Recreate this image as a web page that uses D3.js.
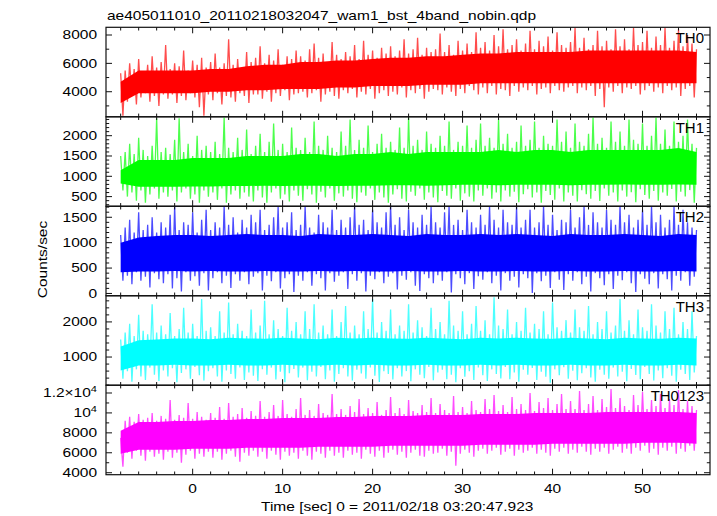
<!DOCTYPE html>
<html><head><meta charset="utf-8">
<script src="https://cdn.jsdelivr.net/npm/d3@7/dist/d3.min.js"></script>
<style>body{margin:0;background:#fff;} svg{display:block;} text{font-family:"Liberation Sans",Arial,Helvetica,sans-serif;fill:#000;}</style>
</head><body>
<svg id="c" width="717" height="516"></svg>
<script>
// ---------------- data ----------------
const title = "ae405011010_20110218032047_wam1_bst_4band_nobin.qdp";
const xLabel = "Time [sec] 0 = 2011/02/18 03:20:47.923";
const yLabel = "Counts/sec";
const panelNames = ["TH0","TH1","TH2","TH3","TH0123"];
const panelColors = ["#ff0000","#00ff00","#0000ff","#00ffff","#ff00ff"];
const yDomains = [[2233,8544],[262,2466],[-45,1717],[198,2745],[3800,12780]];
const yMajor = [[4000,6000,8000],[500,1000,1500,2000],[0,500,1000,1500],[1000,2000],[4000,6000,8000,10000,12000]];
const yMinorStep = [1000,100,100,200,1000];
const xDomain = [-9.63, 57.5];
const xMajor = [0,10,20,30,40,50];
const xMinorStep = 2;

// sampling grid (seconds): peaks every 0.5 s from -8, dips offset by 0.25 s, core band every 2 s
const tStart = -8, peakStep = 0.5, dipOffset = 0.25, coreStep = 2;

// TH0
const th0Peaks = [5300,5500,6000,5600,6300,5400,5900,6500,5700,6100,
 7300,5600,6000,5800,6900,5500,6200,5900,6400,5700,
 6100,6700,5700,6000,7700,5900,6300,5600,6800,6100,
 6400,7200,6000,6600,6200,7000,5900,6500,6300,6900,
 6500,6200,7000,7400,6400,6700,6100,7500,6600,6300,
 6800,6500,7300,6300,7600,6600,6900,6400,7100,6700,
 7200,6500,6900,7700,6700,7000,7800,6600,7100,6800,
 7000,8100,6800,7300,6600,7600,6900,7400,6800,8200,
 7100,7500,6900,8000,7200,8400,7000,7300,7700,6900,
 7400,8300,7000,7600,7200,7900,6900,8200,7300,7100,
 7500,8500,7100,7800,7000,7300,8300,7200,7600,7000,
 8400,7200,7700,7000,8500,7300,7500,8300,7100,7900,
 7300,8500,7100,7600,8400,7200,8000,7400,7000];
const th0Dips = [2300,3300,3700,3100,3600,3900,3300,3700,3000,3800,
 3500,3800,3200,3700,3400,3900,3600,2900,2300,3800,
 3400,3900,3100,3700,3600,3300,3900,3700,3200,3800,
 3800,3500,4000,3300,3900,3700,4100,3400,3800,3900,
 4000,3600,3900,4100,3300,3800,4000,3700,3500,4100,
 3900,4200,3600,4000,3800,4200,3500,3900,4100,3700,
 4000,3800,4300,3600,4100,3900,4200,3500,4000,4200,
 4100,3800,4300,4000,3700,4200,3900,4400,4100,3800,
 4300,3900,4400,3800,4200,4100,3700,4400,4000,4300,
 4100,4400,3800,4200,4300,3900,4400,4100,4000,4300,
 4400,3900,4300,4100,4400,3700,4200,2900,4300,4000,
 4400,3900,4300,4200,4400,3800,4100,4400,4000,4300,
 3900,4400,4100,4300,3700,4200,4400,3600];
const th0CoreHi = [4700,5500,5500,5500,5500,5600,5600,5800,5900,5900,6100,6100,6200,6200,6300,6400,6400,6500,6500,6600,6700,6700,6800,6800,6800,6800,6900,6900,6900,6900,6900,6900,6800];
const th0CoreLo = [3200,3900,3900,3900,3900,4000,4000,4100,4100,4200,4200,4200,4300,4300,4400,4400,4400,4500,4500,4500,4600,4600,4600,4600,4600,4600,4600,4600,4600,4600,4600,4600,4600];

// TH1
const th1Peaks = [1500,1600,1800,1550,1950,1650,1500,1750,2430,1600,
 1700,1550,1900,2430,1600,1800,1500,2000,1650,1750,
 1600,1850,1550,2450,1700,1600,1950,1650,2150,1550,
 1750,2050,1600,1850,2300,1650,1800,1600,2200,1700,
 1650,1950,1600,2350,1750,1650,2000,1700,1600,2100,
 1750,2400,1650,1900,1700,2250,1600,1800,2050,1700,
 1850,1650,2200,1700,2450,1750,1900,1650,2100,1800,
 1700,2000,1750,2350,1650,1850,1750,2250,1700,1900,
 2300,1750,1950,1700,2400,1800,2050,1700,1850,2250,
 1750,1900,2350,1700,2000,1800,1750,2400,1850,2100,
 1700,2300,1850,1750,2050,2450,1800,1950,1700,2350,
 1850,2100,1750,2400,1900,1800,2300,1750,2000,2450,
 1800,2150,1750,2350,1850,2000,2400,1800,1700];
const th1Dips = [650,500,600,400,650,350,550,700,450,600,
 500,650,380,600,700,450,550,350,650,500,
 600,420,700,350,550,650,450,600,500,380,
 650,480,350,600,700,450,550,380,650,520,
 400,680,550,350,620,480,700,400,580,500,
 650,450,360,600,520,700,420,600,480,350,
 550,680,450,380,620,520,700,420,600,480,
 360,640,520,450,700,400,580,500,380,650,
 520,700,450,600,380,650,500,620,360,560,
 680,480,600,350,640,540,420,700,380,600,
 520,380,660,560,450,640,390,700,520,600,
 380,650,500,610,360,680,540,450,640,400,
 600,520,690,380,620,500,660,350];
const th1CoreHi = [1150,1400,1400,1400,1450,1450,1450,1500,1500,1500,1550,1550,1500,1550,1550,1600,1550,1600,1600,1600,1600,1650,1600,1650,1650,1600,1650,1650,1650,1650,1650,1700,1600];
const th1CoreLo = [820,740,740,740,750,750,760,760,770,760,770,770,760,770,770,780,780,770,780,790,790,780,790,790,790,780,790,790,800,790,790,800,790];

// TH2
const th2Peaks = [1150,1300,1450,1200,1600,1250,1350,1500,1200,1400,
 1300,1550,1717,1250,1400,1350,1600,1200,1450,1650,
 1250,1400,1300,1717,1350,1500,1200,1450,1300,1550,
 1400,1650,1250,1350,1500,1700,1300,1400,1600,1250,
 1350,1717,1300,1200,1550,1400,1300,1650,1250,1450,
 1300,1500,1717,1350,1450,1250,1650,1400,1300,1600,
 1717,1350,1500,1250,1650,1400,1300,1550,1350,1700,
 1400,1300,1600,1717,1350,1450,1250,1650,1400,1300,
 1550,1350,1717,1450,1300,1650,1400,1350,1700,1300,
 1450,1650,1300,1400,1717,1350,1550,1250,1450,1400,
 1650,1300,1500,1717,1350,1600,1400,1300,1650,1450,
 1350,1717,1400,1550,1300,1450,1650,1350,1717,1400,
 1550,1300,1450,1717,1350,1650,1400,1300,1250];
const th2Dips = [250,350,180,420,250,330,120,400,280,200,
 380,100,300,40,420,250,340,150,400,60,
 300,420,200,350,110,380,250,420,180,330,
 400,60,350,240,420,100,300,380,30,350,
 250,420,150,380,300,60,400,230,350,420,
 90,380,250,400,40,350,280,420,200,330,
 400,80,350,270,420,150,50,380,300,200,
 360,250,420,20,380,300,180,400,90,340,
 270,420,200,350,60,400,250,330,120,380,
 300,10,400,240,350,110,420,270,70,380,
 250,420,180,330,40,400,300,160,380,90,
 350,260,420,200,30,380,290,180,400,100,
 380,280,60,350,250,420,150,330];
const th2CoreHi = [1000,1100,1130,1150,1150,1130,1150,1170,1150,1150,1130,1170,1150,1150,1170,1150,1130,1170,1150,1150,1170,1150,1170,1150,1130,1170,1150,1150,1170,1150,1130,1170,1150];
const th2CoreLo = [420,430,430,440,430,440,430,430,440,430,430,440,430,440,430,430,440,430,430,440,430,430,440,430,430,440,430,430,440,430,430,440,430];

// TH3
const th3Peaks = [1500,1700,1950,1600,2200,1750,1650,2500,1700,1900,
 1650,2250,1600,1800,2400,1700,1950,1600,2650,1750,
 1850,1600,2300,1700,2550,1650,1950,1750,1600,2350,
 1700,1900,2600,1650,2050,1800,1600,2400,1750,2000,
 1650,2300,1800,2500,1700,1900,1650,2350,1600,2000,
 2450,1700,1900,1650,2300,1800,2650,1700,2000,1750,
 2350,1650,1900,1750,2500,1700,2050,1850,1600,2400,
 1800,2000,1650,2600,1900,1750,2300,1650,1950,2450,
 1750,2050,1650,2700,1900,1800,2350,1650,2000,1750,
 2400,1700,1950,1800,2300,1650,2550,1850,1750,2050,
 1700,2350,1850,1750,2450,1650,2000,1800,2300,1700,
 1900,2650,1750,2050,1650,2350,1850,1750,2500,1900,
 1700,2300,1800,2400,1650,2000,1800,2300,1600];
const th3Dips = [380,600,300,650,450,350,700,500,320,620,
 450,680,280,550,650,380,720,480,330,600,
 680,450,300,620,520,380,700,350,560,470,
 320,650,500,700,360,580,280,540,660,420,
 700,340,580,450,720,370,620,300,520,680,
 450,330,640,530,380,700,470,290,600,520,
 360,680,450,600,310,650,500,400,720,340,
 560,640,370,500,280,680,440,600,350,700,
 480,320,650,520,390,720,370,560,300,640,
 500,690,350,580,440,270,650,480,710,380,
 610,340,540,680,420,300,640,500,380,700,
 450,580,310,660,490,370,720,520,330,620,
 400,680,470,300,640,520,350,560];
const th3CoreHi = [1300,1480,1500,1530,1530,1510,1550,1530,1520,1550,1530,1510,1550,1530,1550,1530,1520,1550,1530,1510,1550,1530,1550,1530,1520,1550,1530,1510,1550,1530,1520,1550,1530];
const th3CoreLo = [620,760,760,780,760,760,780,760,760,780,760,760,780,760,780,760,760,780,760,760,780,760,780,760,760,780,760,760,780,760,760,780,760];

// TH0123
const th0123Peaks = [7500,9200,9600,9100,9900,9300,9500,10000,9200,9700,
 9400,11300,9300,9800,9500,11000,9400,10100,9600,9300,
 10000,9500,10600,9400,11000,9600,9900,10500,9500,10200,
 9700,11200,9600,10100,10800,9700,11300,9900,9600,10400,
 11500,9800,10300,9700,10900,10000,9800,11900,9900,10400,
 9800,10700,10100,11400,9900,10500,10000,11100,9800,10300,
 11600,10000,10500,9900,11300,10200,10000,10800,10100,11500,
 10000,10900,10300,10000,11700,10100,10600,10000,11200,10300,
 10100,11400,10400,11800,10200,10800,10100,11600,10400,10900,
 10300,12000,10200,11100,10500,11500,10300,10900,11900,10400,
 11200,10400,12200,10300,10900,11700,10300,11400,10600,12400,
 10500,11500,10700,10300,11800,10800,12100,10400,11300,10700,
 11900,10500,11400,10800,12300,10400,11200,10700,10300];
const th0123Dips = [4600,6000,5400,6200,5700,5200,6100,5600,5900,5300,
 6100,5500,6000,5000,5800,6200,5400,5900,5600,6100,
 5500,6100,5300,5900,6200,5600,5100,6000,5700,6200,
 5600,6100,5400,6200,5800,5300,6100,5700,6000,5400,
 6200,5700,5300,6100,5900,5500,6200,5700,6000,5500,
 6200,5800,6000,5400,6300,5900,5600,6200,5500,6000,
 6300,5800,6100,5500,6000,6300,5700,5600,6200,5900,
 6000,6400,5700,6100,4700,5900,6300,6000,5600,6200,
 6400,5900,6200,6500,5800,6100,6400,5700,6300,6000,
 6200,6500,5900,6300,6000,5700,6400,6100,6500,5900,
 6300,6000,6600,6100,5800,6400,6100,6500,5900,6300,
 6600,6000,6400,5900,6500,6200,6700,6000,6400,5800,
 6500,6200,6600,5900,6400,6100,6700,6200];
const th0123CoreHi = [8200,9100,9100,9200,9200,9300,9300,9400,9400,9500,9500,9500,9600,9600,9700,9700,9700,9800,9800,9800,9900,9900,9900,10000,10000,10000,10000,10100,10100,10100,10100,10100,10000];
const th0123CoreLo = [5900,6300,6300,6300,6400,6400,6400,6500,6500,6500,6500,6600,6600,6600,6600,6700,6700,6700,6700,6700,6800,6800,6800,6800,6900,6900,6900,6900,6900,7000,7000,7000,6900];

const peaksAll = [th0Peaks, th1Peaks, th2Peaks, th3Peaks, th0123Peaks];
const dipsAll = [th0Dips, th1Dips, th2Dips, th3Dips, th0123Dips];
const coreHiAll = [th0CoreHi, th1CoreHi, th2CoreHi, th3CoreHi, th0123CoreHi];
const coreLoAll = [th0CoreLo, th1CoreLo, th2CoreLo, th3CoreLo, th0123CoreLo];

// ---------------- layout ----------------
const SX = 1.23, FS = 12.6;
const left = 106, right = 710, top0 = 27.3, ph = 89.48;
const svg = d3.select("#c");
const x = d3.scaleLinear().domain(xDomain).range([left, right]);

function stext(sel, px, py, str, anchor) {
  return sel.append("text")
    .attr("transform", `translate(${px},${py}) scale(${SX},1)`)
    .attr("text-anchor", anchor || "start")
    .style("font-size", FS + "px")
    .text(str);
}

const defs = svg.append("defs");

panelNames.forEach((name, k) => {
  const y0 = top0 + k * ph, y1 = y0 + ph;
  const y = d3.scaleLinear().domain(yDomains[k]).range([y1, y0]);
  const color = panelColors[k];

  defs.append("clipPath").attr("id", "clip" + k)
    .append("rect").attr("x", left).attr("y", y0).attr("width", right - left).attr("height", ph);

  const g = svg.append("g").attr("clip-path", `url(#clip${k})`);

  // noisy excursions: alternate peaks and dips (thin, light spikes)
  const pk = peaksAll[k], dp = dipsAll[k];
  const zig = [];
  for (let i = 0; i < pk.length; i++) {
    zig.push({t: tStart + i * peakStep, v: pk[i]});
    if (i < dp.length) zig.push({t: tStart + dipOffset + i * peakStep, v: dp[i]});
  }
  g.append("path").datum(zig)
    .attr("d", d3.line().x(d => x(d.t)).y(d => y(d.v)))
    .attr("fill", "none").attr("stroke", color).attr("stroke-width", 1.3)
    .attr("stroke-linejoin", "miter").attr("stroke-opacity", 0.7);

  // dense core band
  const core = coreHiAll[k].map((v, i) => ({t: tStart + i * coreStep, hi: v, lo: coreLoAll[k][i]}));
  g.append("path").datum(core)
    .attr("d", d3.area().x(d => x(d.t)).y0(d => y(d.lo)).y1(d => y(d.hi)))
    .attr("fill", color);

  // frame
  svg.append("rect").attr("x", left).attr("y", y0).attr("width", right - left).attr("height", ph)
    .attr("fill", "none").attr("stroke", "#111").attr("stroke-width", 1.2);

  const tk = svg.append("g").attr("stroke", "#111").attr("stroke-width", 1);
  const majLen = 6, minLen = 3.2;
  const dom = yDomains[k], st = yMinorStep[k];
  const minors = d3.range(Math.ceil(dom[0] / st) * st, dom[1], st).filter(v => !yMajor[k].includes(v));
  yMajor[k].forEach(v => {
    tk.append("line").attr("x1", left).attr("x2", left + majLen).attr("y1", y(v)).attr("y2", y(v));
    tk.append("line").attr("x1", right).attr("x2", right - majLen).attr("y1", y(v)).attr("y2", y(v));
  });
  minors.forEach(v => {
    tk.append("line").attr("x1", left).attr("x2", left + minLen).attr("y1", y(v)).attr("y2", y(v));
    tk.append("line").attr("x1", right).attr("x2", right - minLen).attr("y1", y(v)).attr("y2", y(v));
  });
  const xMinors = d3.range(Math.ceil(xDomain[0] / xMinorStep) * xMinorStep, xDomain[1], xMinorStep).filter(v => !xMajor.includes(v));
  xMajor.forEach(v => {
    tk.append("line").attr("x1", x(v)).attr("x2", x(v)).attr("y1", y0).attr("y2", y0 + majLen);
    tk.append("line").attr("x1", x(v)).attr("x2", x(v)).attr("y1", y1).attr("y2", y1 - majLen);
  });
  xMinors.forEach(v => {
    tk.append("line").attr("x1", x(v)).attr("x2", x(v)).attr("y1", y0).attr("y2", y0 + minLen);
    tk.append("line").attr("x1", x(v)).attr("x2", x(v)).attr("y1", y1).attr("y2", y1 - minLen);
  });

  // y tick labels
  yMajor[k].forEach(v => {
    const py = y(v) + 4.4;
    if (k === 4 && v >= 10000) {
      const t = svg.append("text")
        .attr("transform", `translate(${left - 9},${py}) scale(${SX},1)`)
        .attr("text-anchor", "end").style("font-size", FS + "px");
      t.append("tspan").text(v === 10000 ? "10" : "1.2×10");
      t.append("tspan").attr("dy", -5).style("font-size", "9px").text("4");
    } else {
      stext(svg, left - 9, py, String(v), "end");
    }
  });

  svg.append("text").attr("x", 704).attr("y", y0 + 16).attr("text-anchor", "end")
    .style("font-size", "15px").text(name);

  if (k === panelNames.length - 1) {
    xMajor.forEach(v => stext(svg, x(v), 492.7, String(v), "middle"));
  }
});

stext(svg, 107, 19.5, title, "start");
stext(svg, 261, 510.5, xLabel, "start");
svg.append("text")
  .attr("transform", `translate(46.5,259.5) rotate(-90) scale(${SX},1)`)
  .attr("text-anchor", "middle").style("font-size", FS + "px").text(yLabel);
</script>
</body></html>
